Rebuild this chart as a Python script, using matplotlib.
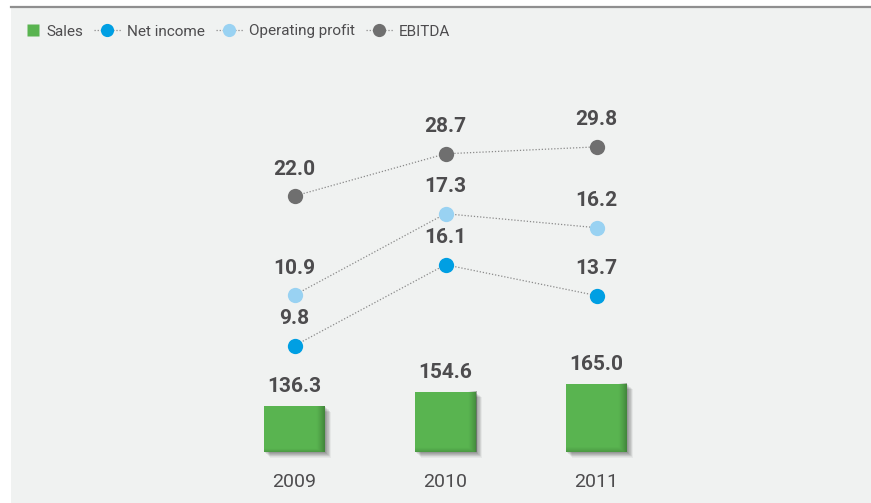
import numpy as np
import matplotlib
matplotlib.use("Agg")
import matplotlib.pyplot as plt
from matplotlib.patches import Rectangle
from matplotlib.lines import Line2D
import matplotlib.patheffects as pe
import matplotlib.transforms as mtransforms

# ---- data -------------------------------------------------------------
years = ["2009", "2010", "2011"]
sales = [136.3, 154.6, 165.0]
net_income = [9.8, 16.1, 13.7]
operating_profit = [10.9, 17.3, 16.2]
ebitda = [22.0, 28.7, 29.8]
legend_labels = ["Sales", "Net income", "Operating profit", "EBITDA"]

# ---- styling ----------------------------------------------------------
plt.rcParams["font.family"] = ["Roboto", "DejaVu Sans"]
W, H, DPI = 871, 503, 100
PANEL = "#f0f2f1"
TEXT = "#4d4c4e"
GREEN = "#59b450"
BLUE = "#009fe3"
LIGHT_BLUE = "#99d2f2"
GREY = "#6f6f6f"
DOTS = "#8a8a8a"
DOT_STYLE = (0, (1, 1.5))
VALUE_SIZE = 15

fig = plt.figure(figsize=(W / DPI, H / DPI), dpi=DPI)
fig.patch.set_facecolor("white")

# panel background and top rule
fig.add_artist(Rectangle((11 / W, 0), (W - 11) / W, (H - 7) / H,
                         transform=fig.transFigure, facecolor=PANEL,
                         edgecolor="none", zorder=0))
fig.add_artist(Line2D([11 / W, 1], [(H - 6.5) / H] * 2, transform=fig.transFigure,
                      color="#8f8f8f", lw=1.6, zorder=1))

x = np.arange(len(years))
X0, STEP = 294.5, 151.0          # pixel centre of first category, spacing
xlim = (-X0 / STEP, (W - X0) / STEP)


def make_axes(zero_px, px_per_unit):
    """Full-figure axes whose value 0 sits zero_px below the top edge."""
    a = fig.add_axes([0, 0, 1, 1])
    a.set_xlim(*xlim)
    a.set_ylim((zero_px - H) / px_per_unit, zero_px / px_per_unit)
    a.patch.set_alpha(0)
    a.axis("off")
    return a


# ---- bars -------------------------------------------------------------
BASE, BAR_PPU = 77.4, 0.7786
BAR_ZERO = 452 + BASE * BAR_PPU
axb = make_axes(BAR_ZERO, BAR_PPU)
bar_w = 61 / STEP
shadow = [pe.SimplePatchShadow(offset=(o, -o * 0.9), shadow_rgbFace="k", alpha=0.045)
          for o in np.linspace(0.4, 4.4, 10)] + [pe.Normal()]
bars = axb.bar(x, np.array(sales) - BASE, bottom=BASE, width=bar_w,
               color=GREEN, zorder=2)
for b in bars:
    b.set_path_effects(shadow)
    # inner shading toward the right and bottom edges
    x0, y0 = b.get_x(), b.get_y()
    w, h = b.get_width(), b.get_height()
    u = np.linspace(0, 1, 120)[None, :]
    v = np.linspace(1, 0, 120)[:, None]
    a_r = np.clip((u - 0.86) / 0.14, 0, 1) ** 1.3 * 0.40
    a_b = np.clip((0.07 - v) / 0.07, 0, 1) * 0.22
    img = np.zeros((120, 120, 4))
    img[..., 0], img[..., 1], img[..., 2] = 0.12, 0.25, 0.10
    img[..., 3] = np.maximum(a_r, a_b)
    axb.imshow(img, extent=(x0, x0 + w, y0, y0 + h), aspect="auto",
               interpolation="bilinear", zorder=3)
for xi, s in zip(x, sales):
    axb.annotate(f"{s:.1f}", (xi, s), xytext=(0, 10), textcoords="offset points",
                 ha="center", va="baseline", fontsize=VALUE_SIZE, fontweight="bold",
                 color=TEXT)
axb.set_xlim(*xlim)
axb.set_ylim((BAR_ZERO - H) / BAR_PPU, BAR_ZERO / BAR_PPU)

# year labels
trans = mtransforms.blended_transform_factory(axb.transData, fig.transFigure)
for xi, yr in zip(x, years):
    fig.text(xi, (H - 487) / H, yr, transform=trans, ha="center", va="baseline",
             fontsize=14, color=TEXT)

# ---- lines (each series on its own scale) -----------------------------
series = [
    (ebitda, GREY, 334.7, 6.303),
    (operating_profit, LIGHT_BLUE, 433.6, 12.71),
    (net_income, BLUE, 471.6, 12.85),
]
for vals, col, zero_px, ppu in series:
    a = make_axes(zero_px, ppu)
    a.plot(x, vals, linestyle=DOT_STYLE, color=DOTS, lw=0.9, zorder=2)
    a.plot(x, vals, linestyle="none", marker="o", markersize=11,
           markerfacecolor=col, markeredgecolor="none", zorder=3)
    for xi, v in zip(x, vals):
        a.annotate(f"{v:.1f}", (xi, v), xytext=(0, 15.5), textcoords="offset points",
                   ha="center", va="baseline", fontsize=VALUE_SIZE, fontweight="bold",
                   color=TEXT)

# ---- legend (laid out by hand, left to right) -------------------------
renderer = fig.canvas.get_renderer()
px = lambda v: v / W
ly = (H - 30) / H
cur = 27.0
for i, (lab, col) in enumerate(zip(legend_labels, [GREEN, BLUE, LIGHT_BLUE, GREY])):
    if i == 0:
        fig.add_artist(Line2D([px(cur + 5.5)], [ly], transform=fig.transFigure,
                              linestyle="none", marker="s", markersize=8,
                              markerfacecolor=col, markeredgecolor="none"))
        tx = cur + 19
    else:
        fig.add_artist(Line2D([px(cur), px(cur + 27)], [ly, ly],
                              transform=fig.transFigure, linestyle=DOT_STYLE,
                              color=DOTS, lw=0.9))
        fig.add_artist(Line2D([px(cur + 13.5)], [ly], transform=fig.transFigure,
                              linestyle="none", marker="o", markersize=9.5,
                              markerfacecolor=col, markeredgecolor="none"))
        tx = cur + 33
    t = fig.text(px(tx), ly, lab, ha="left", va="center_baseline", fontsize=11,
                 color=TEXT)
    cur = t.get_window_extent(renderer).x1 + 11

fig.savefig("out.png", dpi=DPI, facecolor=fig.get_facecolor())
